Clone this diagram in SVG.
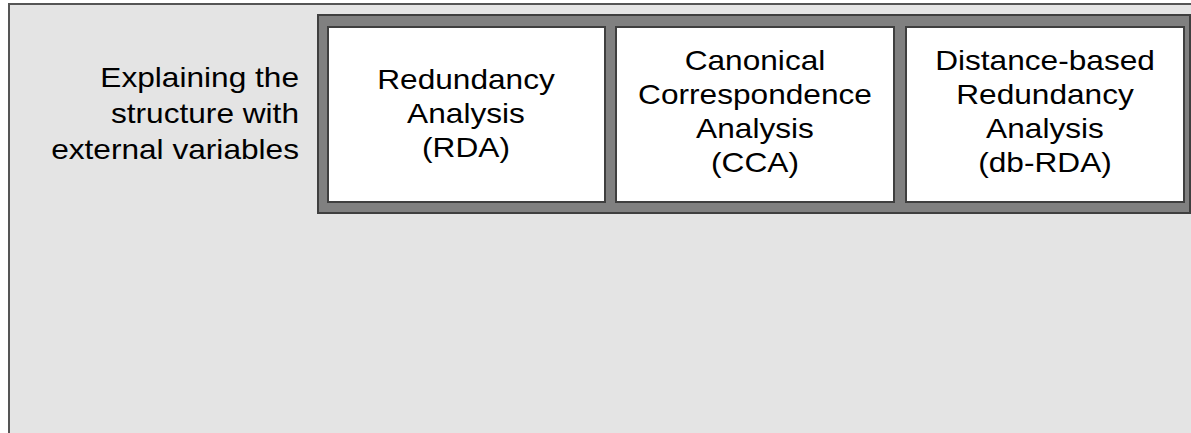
<svg xmlns="http://www.w3.org/2000/svg" width="1191" height="433" viewBox="0 0 1191 433">
  <style>
    .panel { fill: #e4e4e4; stroke: #555555; stroke-width: 2; }
    .frame { fill: #808080; stroke: #3f3f3f; stroke-width: 2; }
    .box { fill: #ffffff; stroke: #3f3f3f; stroke-width: 2; }
    .lbl { font-family: "Liberation Sans", Arial, sans-serif; font-size: 28px; fill: #000000; }
    .mid { text-anchor: middle; }
    .end { text-anchor: end; }
  </style>
  <rect width="1191" height="433" fill="#ffffff"/>

  <!-- background panel -->
  <rect class="panel" x="9" y="4" width="1200" height="440"/>

  <!-- row label -->
  <g id="row-label">
    <text class="lbl end" transform="translate(299,0) scale(1.13,1)" x="0" y="87">Explaining the</text>
    <text class="lbl end" transform="translate(299,0) scale(1.13,1)" x="0" y="123">structure with</text>
    <text class="lbl end" transform="translate(299,0) scale(1.13,1)" x="0" y="159">external variables</text>
  </g>

  <!-- method frame -->
  <g id="methods-frame">
    <rect class="frame" x="318" y="15" width="872" height="198"/>
  </g>

  <g id="rda">
    <rect class="box" x="328" y="27" width="277" height="175"/>
    <text class="lbl mid" transform="translate(466,0) scale(1.13,1)" x="0" y="89">Redundancy</text>
    <text class="lbl mid" transform="translate(466,0) scale(1.13,1)" x="0" y="123">Analysis</text>
    <text class="lbl mid" transform="translate(466,0) scale(1.13,1)" x="0" y="157">(RDA)</text>
  </g>

  <g id="cca">
    <rect class="box" x="616" y="27" width="278" height="175"/>
    <text class="lbl mid" transform="translate(755,0) scale(1.13,1)" x="0" y="70">Canonical</text>
    <text class="lbl mid" transform="translate(755,0) scale(1.13,1)" x="0" y="104">Correspondence</text>
    <text class="lbl mid" transform="translate(755,0) scale(1.13,1)" x="0" y="138">Analysis</text>
    <text class="lbl mid" transform="translate(755,0) scale(1.13,1)" x="0" y="172">(CCA)</text>
  </g>

  <g id="db-rda">
    <rect class="box" x="906" y="27" width="278" height="175"/>
    <text class="lbl mid" transform="translate(1045,0) scale(1.13,1)" x="0" y="70">Distance-based</text>
    <text class="lbl mid" transform="translate(1045,0) scale(1.13,1)" x="0" y="104">Redundancy</text>
    <text class="lbl mid" transform="translate(1045,0) scale(1.13,1)" x="0" y="138">Analysis</text>
    <text class="lbl mid" transform="translate(1045,0) scale(1.13,1)" x="0" y="172">(db-RDA)</text>
  </g>

  <g id="connectors"></g>
</svg>
